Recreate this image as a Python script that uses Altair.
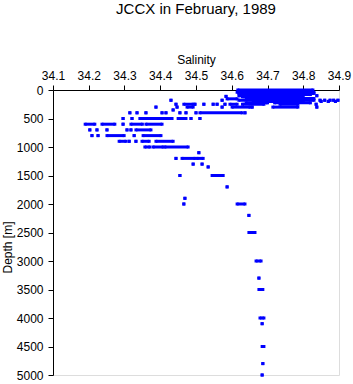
import altair as alt
import pandas as pd

# Observations drawn as horizontal runs of samples: salinity start, salinity end, depth [m]
sal_start = [
    34.617, 34.625, 34.615, 34.620, 34.640, 34.620, 34.838, 34.630, 34.584, 34.587, 34.640,
    34.430, 34.573, 34.620, 34.780, 34.847, 34.860, 34.875, 34.885, 34.897,
    34.660, 34.850, 34.870, 34.890, 34.640, 34.720,
    34.444, 34.466, 34.497, 34.522, 34.548, 34.559, 34.581, 34.595, 34.630, 34.735, 34.836,
    34.388, 34.447, 34.475, 34.573, 34.601, 34.657, 34.715, 34.838,
    34.436,
    34.315, 34.335, 34.360, 34.405, 34.416, 34.455, 34.472, 34.500, 34.511, 34.637,
    34.296, 34.321, 34.343, 34.450, 34.486, 34.511,
    34.190, 34.237, 34.296, 34.318, 34.360,
    34.203, 34.223, 34.251, 34.307, 34.318, 34.332,
    34.209, 34.226, 34.251, 34.327, 34.352,
    34.285, 34.313, 34.332, 34.349, 34.388,
    34.357, 34.380, 34.413,
    34.508,
    34.444, 34.461, 34.503,
    34.492, 34.517,
    34.534,
    34.455, 34.545,
    34.587,
    34.469,
    34.466, 34.615,
    34.648,
    34.648,
    34.668,
    34.676,
    34.676,
    34.679,
    34.685,
    34.685,
    34.687,
    34.685,
]
sal_end = [
    34.827, 34.825, 34.830, 34.830, 34.820, 34.790, 34.838, 34.800, 34.584, 34.615, 34.830,
    34.430, 34.573, 34.760, 34.830, 34.847, 34.860, 34.875, 34.885, 34.897,
    34.800, 34.850, 34.870, 34.890, 34.700, 34.820,
    34.444, 34.492, 34.497, 34.522, 34.548, 34.559, 34.581, 34.615, 34.690, 34.785, 34.836,
    34.388, 34.447, 34.492, 34.573, 34.651, 34.657, 34.785, 34.838,
    34.436,
    34.315, 34.335, 34.360, 34.405, 34.416, 34.455, 34.472, 34.500, 34.629, 34.637,
    34.296, 34.321, 34.433, 34.472, 34.486, 34.511,
    34.217, 34.273, 34.296, 34.350, 34.405,
    34.203, 34.223, 34.251, 34.307, 34.318, 34.374,
    34.209, 34.226, 34.299, 34.327, 34.402,
    34.304, 34.313, 34.332, 34.369, 34.436,
    34.371, 34.408, 34.478,
    34.508,
    34.444, 34.497, 34.520,
    34.492, 34.517,
    34.534,
    34.455, 34.576,
    34.587,
    34.469,
    34.466, 34.637,
    34.648,
    34.665,
    34.682,
    34.676,
    34.687,
    34.690,
    34.685,
    34.690,
    34.687,
    34.685,
]
seg_depth = [
    0, 20, 40, 60, 80, 100, 100, 120, 112, 155, 150,
    180, 180, 180, 180, 180, 180, 180, 180, 180,
    200, 200, 200, 200, 225, 225,
    250, 250, 250, 250, 250, 250, 250, 250, 250, 250, 250,
    300, 300, 300, 300, 300, 300, 300, 300,
    350,
    400, 400, 400, 400, 400, 400, 400, 400, 400, 400,
    500, 500, 500, 500, 500, 500,
    600, 600, 600, 600, 600,
    700, 700, 700, 700, 700, 700,
    800, 800, 800, 800, 800,
    900, 900, 900, 900, 900,
    1000, 1000, 1000,
    1100,
    1200, 1200, 1200,
    1300, 1300,
    1350,
    1500, 1500,
    1700,
    1900,
    2000, 2000,
    2200,
    2500,
    3000,
    3300,
    3500,
    4000,
    4100,
    4500,
    4800,
    5000,
]

df = pd.DataFrame({"s1": sal_start, "s2": sal_end, "d": seg_depth})

FONT = "Liberation Sans"
x_ticks = [34.1, 34.2, 34.3, 34.4, 34.5, 34.6, 34.7, 34.8, 34.9]
y_ticks = list(range(0, 5001, 500))

xs = alt.Scale(domain=[34.1, 34.9], nice=False, zero=False)
ys = alt.Scale(domain=[0, 5000], reverse=True, nice=False, zero=False)

x_axis = alt.Axis(orient="top", title="Salinity", values=x_ticks, format=".1f",
                  tickSize=5, grid=False, labelFlush=False, labelOverlap=False,
                  labelPadding=3, titlePadding=3, labelFontSize=12, titleFontSize=12,
                  titleFontWeight="normal", domainColor="black", tickColor="black",
                  labelColor="black", titleColor="black", labelFont=FONT, titleFont=FONT)
y_axis = alt.Axis(title="Depth [m]", values=y_ticks, format="d", tickSize=5,
                  grid=False, labelFlush=False, labelOverlap=False, labelPadding=5,
                  labelFontSize=12, titleFontSize=12, titleFontWeight="normal",
                  domainColor="black", tickColor="black", labelColor="black",
                  titleColor="black", labelFont=FONT, titleFont=FONT,
                  titleX=-42, titleY=157, titleBaseline="alphabetic")

base = alt.Chart(df)
runs = base.mark_rule(color="#0000ff", strokeWidth=3).encode(
    x=alt.X("s1:Q", scale=xs, axis=x_axis),
    x2="s2:Q",
    y=alt.Y("d:Q", scale=ys, axis=y_axis),
)
starts = base.mark_square(color="#0000ff", size=9, opacity=1).encode(
    x=alt.X("s1:Q", scale=xs, axis=x_axis), y=alt.Y("d:Q", scale=ys, axis=y_axis))
ends = base.mark_square(color="#0000ff", size=9, opacity=1).encode(
    x=alt.X("s2:Q", scale=xs, axis=x_axis), y=alt.Y("d:Q", scale=ys, axis=y_axis))

chart = alt.layer(runs, starts, ends).properties(
    width=286, height=285,
    autosize=alt.AutoSizeParams(type="none"),
    padding={"left": 53, "top": 90, "right": 14, "bottom": 9},
    title=alt.TitleParams("JCCX in February, 1989", fontSize=15, fontWeight="normal",
                          font=FONT, color="black", offset=36),
).configure_view(stroke=None).configure(background="white")

chart.save("out.html", embed_options={"renderer": "svg", "actions": False})
